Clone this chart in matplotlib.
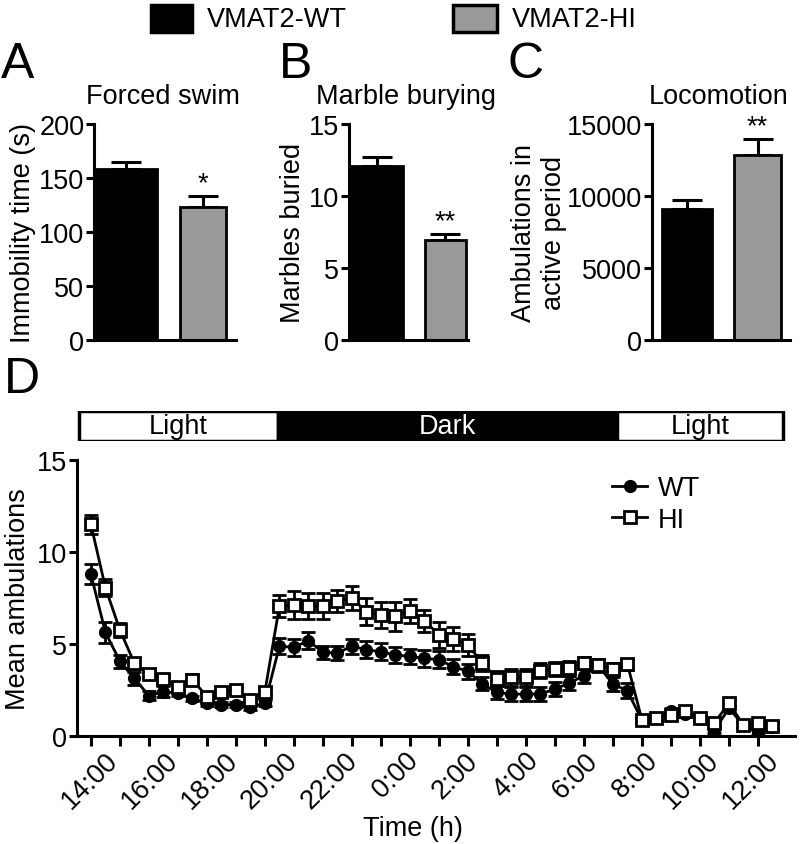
import numpy as np
import matplotlib
matplotlib.use('Agg')
import matplotlib.pyplot as plt
from matplotlib.patches import Rectangle

plt.rcParams['font.family'] = ['Liberation Sans', 'DejaVu Sans']
FS = 19.5

# panels A-C : WT, HI
groups = ['VMAT2-WT', 'VMAT2-HI']
swim_mean = [158, 123]
swim_sem = [7, 10]
marble_mean = [12.1, 6.95]
marble_sem = [0.6, 0.42]
loco_mean = [9100, 12870]
loco_sem = [630, 1100]
stars = ['*', '**', '**']

# panel D : mean ambulations every 30 min
wt_mean = [8.79, 5.63, 4.06, 3.13, 2.19, 2.41, 2.32, 2.05, 1.78, 1.70, 1.70, 1.59,
           1.78, 4.88, 4.82, 5.18, 4.55, 4.51, 4.88, 4.69, 4.58, 4.40, 4.33, 4.22,
           4.15, 3.76, 3.52, 2.83, 2.37, 2.28, 2.28, 2.28, 2.55, 2.88, 3.28, 3.82,
           2.83, 2.46, 0.85, 1.00, 1.38, 1.20, 1.00, 0.30, 1.50, 0.60, 0.20, 0.50]
wt_sem = [0.55, 0.55, 0.35, 0.35, 0.25, 0.30, 0.15, 0.15, 0.15, 0.15, 0.15, 0.15,
          0.15, 0.45, 0.45, 0.45, 0.35, 0.40, 0.40, 0.45, 0.45, 0.45, 0.40, 0.45,
          0.45, 0.40, 0.40, 0.35, 0.35, 0.40, 0.40, 0.40, 0.40, 0.40, 0.40, 0.35,
          0.40, 0.40, 0.15, 0.15, 0.15, 0.15, 0.15, 0.15, 0.15, 0.15, 0.15, 0.15]
hi_mean = [11.50, 8.06, 5.76, 3.95, 3.39, 3.08, 2.66, 3.06, 2.14, 2.37, 2.48, 1.97,
           2.41, 7.05, 7.12, 7.08, 7.05, 7.35, 7.48, 6.76, 6.58, 6.50, 6.81, 6.27,
           5.49, 5.29, 4.95, 3.97, 3.12, 3.19, 3.19, 3.55, 3.64, 3.68, 3.97, 3.86,
           3.64, 3.91, 0.89, 0.99, 1.14, 1.38, 0.96, 0.71, 1.78, 0.60, 0.71, 0.56]
hi_sem = [0.50, 0.45, 0.40, 0.30, 0.20, 0.20, 0.20, 0.30, 0.20, 0.20, 0.20, 0.20,
          0.20, 0.60, 0.75, 0.70, 0.70, 0.60, 0.65, 0.75, 0.70, 0.80, 0.65, 0.60,
          0.70, 0.65, 0.60, 0.45, 0.40, 0.45, 0.45, 0.40, 0.40, 0.40, 0.35, 0.30,
          0.35, 0.30, 0.15, 0.15, 0.15, 0.15, 0.15, 0.15, 0.15, 0.15, 0.15, 0.15]
hours = np.arange(48) * 0.5   # hours since first bin
time_labels = ['14:00', '16:00', '18:00', '20:00', '22:00', '0:00',
               '2:00', '4:00', '6:00', '8:00', '10:00', '12:00']
periods = [('Light', -0.41, 6.45), ('Dark', 6.45, 18.14), ('Light', 18.14, 23.86)]

W, H = 805, 845
fig = plt.figure(figsize=(W / 100, H / 100), dpi=100)

def px_axes(l, t, r, b):
    return fig.add_axes([l / W, 1 - b / H, (r - l) / W, (b - t) / H])

def style(ax):
    for s in ['top', 'right']:
        ax.spines[s].set_visible(False)
    for s in ['left', 'bottom']:
        ax.spines[s].set_linewidth(2.2)
    ax.tick_params(direction='out', width=2.2, length=6, labelsize=FS, pad=1)

cols = ['black', '#999999']

def bar_panel(ax, means, sems, widths, xlim, ylim, yticks, ylabel, star):
    for i in range(2):
        ax.errorbar(i, means[i], yerr=[[0], [sems[i]]], color='black',
                    capsize=11, capthick=2.2, elinewidth=2.2, zorder=1)
        ax.bar(i, means[i], width=widths[i], color=cols[i], edgecolor='black',
               linewidth=2, zorder=2)
    ax.annotate(star, (1, means[1] + sems[1]), xytext=(0, 0), textcoords='offset points',
                ha='center', va='bottom', fontsize=FS)
    ax.set_xlim(*xlim)
    ax.set_ylim(*ylim)
    ax.set_yticks(yticks)
    ax.set_xticks([])
    ax.set_ylabel(ylabel, fontsize=FS, labelpad=2)
    style(ax)

axA = px_axes(94, 125, 236, 341)
bar_panel(axA, swim_mean, swim_sem, [0.8, 0.6], (-0.415, 1.43), (0, 200),
          [0, 50, 100, 150, 200], 'Immobility time (s)', stars[0])
axB = px_axes(349, 125, 468, 341)
bar_panel(axB, marble_mean, marble_sem, [0.77, 0.6], (-0.41, 1.33), (0, 15),
          [0, 5, 10, 15], 'Marbles buried', stars[1])
axC = px_axes(652, 125, 790, 341)
bar_panel(axC, loco_mean, loco_sem, [0.71, 0.67], (-0.5, 1.46), (0, 15000),
          [0, 5000, 10000, 15000], 'Ambulations in\nactive period', stars[2])
axC.yaxis.labelpad = 0

# titles and panel letters
for x, txt in [(163, 'Forced swim'), (406, 'Marble burying'), (719, 'Locomotion')]:
    fig.text(x / W, 1 - 97 / H, txt, ha='center', va='center', fontsize=FS)
for x, y, txt in [(18, 65, 'A'), (296, 65, 'B'), (526, 65, 'C'), (22, 380, 'D')]:
    fig.text(x / W, 1 - y / H, txt, ha='center', va='center', fontsize=36)

# legend on top
for x0, x1, tx, c, name in [(151, 192, 207, cols[0], groups[0]), (453, 497, 512, cols[1], groups[1])]:
    fig.patches.append(Rectangle((x0 / W, 1 - 33 / H), (x1 - x0) / W, 27 / H,
                                 transform=fig.transFigure, facecolor=c,
                                 edgecolor='black', linewidth=2.5))
    fig.text(tx / W, 1 - 20 / H, name, ha='left', va='center', fontsize=FS)

# panel D
axD = px_axes(77, 461, 795, 737)
axD.errorbar(hours, wt_mean, yerr=wt_sem, fmt='none', ecolor='black',
             elinewidth=2, capsize=5, capthick=2, zorder=2)
axD.plot(hours, wt_mean, '-o', color='black', lw=2, ms=8.5, zorder=3, label='WT')
axD.errorbar(hours, hi_mean, yerr=hi_sem, fmt='none', ecolor='black',
             elinewidth=2, capsize=5, capthick=2, zorder=4)
axD.plot(hours, hi_mean, '-s', color='black', mfc='white', mec='black', mew=2,
         lw=2, ms=9, zorder=5, label='HI')
axD.set_xlim(-0.48, 24.28)
axD.set_ylim(0, 15)
axD.set_yticks([0, 5, 10, 15])
style(axD)
# hourly tick marks; the labels in the source figure sit slightly wider than every 2nd tick
axD.set_xticks(np.arange(0, 24), minor=True)
axD.set_xticks(np.linspace(1.1, 23.9, len(time_labels)))
axD.set_xticklabels(time_labels, rotation=45, ha='right', fontsize=FS)
axD.tick_params(axis='x', which='minor', direction='out', width=2.2, length=7)
axD.tick_params(axis='x', which='major', length=0, pad=8)
axD.set_ylabel('Mean ambulations', fontsize=FS, labelpad=4)
fig.text(413 / W, 1 - 829 / H, 'Time (h)', ha='center', va='center', fontsize=FS)
axD.legend(loc='center left', bbox_to_anchor=(0.745, 0.84), frameon=False,
           fontsize=FS, handlelength=1.3, handletextpad=0.4, borderpad=0,
           borderaxespad=0, labelspacing=0.2)

# light / dark bar
axL = px_axes(77, 412, 795, 442)
axL.set_xlim(axD.get_xlim())
axL.set_ylim(0, 1)
axL.axis('off')
for name, a, b in periods:
    dark = name == 'Dark'
    axL.add_patch(Rectangle((a, 0), b - a, 1, facecolor='black' if dark else 'white',
                            edgecolor='black', linewidth=2.5))
    axL.text((a + b) / 2, 0.5, name, ha='center', va='center', fontsize=FS,
             color='white' if dark else 'black')

fig.savefig('out.png', dpi=100)
